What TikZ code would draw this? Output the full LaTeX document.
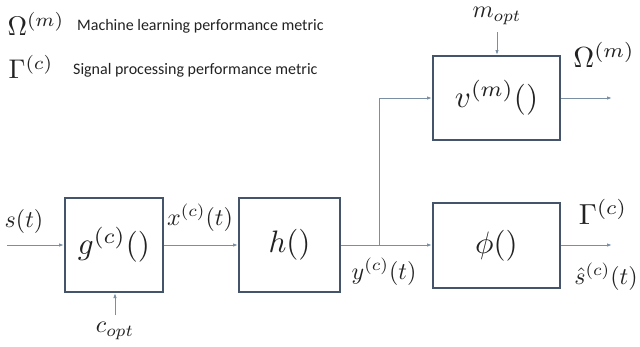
\documentclass[tikz,border=0pt]{standalone}
\usepackage{graphicx}
\usepackage{fontspec}
\newfontfamily\legendfont{Carlito}
\usetikzlibrary{arrows.meta}
\definecolor{boxcol}{HTML}{44546A}
\definecolor{linecol}{HTML}{7A8FA4}
\definecolor{txtcol}{HTML}{222222}
\newcommand{\bxm}[1]{\scalebox{3.1}{$#1$}}
\newcommand{\sgm}[1]{\scalebox{2.4}{$#1$}}
\newcommand{\bgm}[1]{\scalebox{2.9}{$#1$}}
\newcommand{\lgm}[1]{\scalebox{2.7}{$#1$}}
\tikzset{
  blockbox/.style={draw=boxcol, line width=2pt, inner sep=0pt, text=txtcol},
  conn/.style={draw=linecol, line width=1pt, -{Latex[length=5pt,width=3.5pt]}},
  sig/.style={inner sep=0pt, text=txtcol},
  legtext/.style={inner sep=0pt, anchor=west, text=txtcol, font=\legendfont\fontsize{16}{18}\selectfont}
}
\begin{document}
\begin{tikzpicture}[x=1pt,y=-1pt]
\useasboundingbox (0,0) rectangle (640,346);
% legend
\node[sig] (legO) at (36,24) {\lgm{\Omega^{(m)}}};
\node[legtext] (legOt) at (77,26) {Machine learning performance metric};
\node[sig] (legG) at (31,67) {\lgm{\Gamma^{(c)}}};
\node[legtext] (legGt) at (73,70) {Signal processing performance metric};
% blocks
\node[blockbox, minimum width=98pt, minimum height=94pt] (g) at (114,245) {\bxm{g^{(c)}()}};
\node[blockbox, minimum width=101pt, minimum height=94pt] (h) at (289.5,245) {\bxm{h()}};
\node[blockbox, minimum width=127pt, minimum height=85pt] (phi) at (496.5,245.5) {\bxm{\phi()}};
\node[blockbox, minimum width=127pt, minimum height=84pt] (v) at (496.5,98) {\bxm{v^{(m)}()}};
% coordinates
\coordinate (sin) at (7,245);
\coordinate (br) at (379,245);
\coordinate (brup) at (379,98);
\coordinate (vout) at (612,98);
\coordinate (phiout) at (612,245);
\coordinate (mopt) at (497,32);
\coordinate (copt) at (115,315);
% connectors
\draw[conn] (sin) -- (g.west |- sin);
\draw[conn] (g.east |- sin) -- (h.west |- sin);
\draw[conn] (h.east |- br) -- (phi.west |- br);
\draw[conn] (br) -- (brup) -- (v.west |- brup);
\draw[conn] (v.east |- vout) -- (vout);
\draw[conn] (phi.east |- phiout) -- (phiout);
\draw[conn] (mopt) -- (v.north -| mopt);
\draw[conn] (copt) -- (g.south -| copt);
% signal labels
\node[sig] (st) at (24,221) {\sgm{s(t)}};
\node[sig] (xt) at (200,218) {\sgm{x^{(c)}(t)}};
\node[sig] (yt) at (384,272) {\sgm{y^{(c)}(t)}};
\node[sig] (sh) at (606,277) {\sgm{\hat{s}^{(c)}(t)}};
\node[sig] (gam) at (603,212) {\bgm{\Gamma^{(c)}}};
\node[sig] (om) at (604,55) {\bgm{\Omega^{(m)}}};
\node[sig, anchor=base] (mo) at (497,17.5) {\sgm{m_{opt}}};
\node[sig] (co) at (115,331) {\sgm{c_{opt}}};
\end{tikzpicture}
\end{document}
